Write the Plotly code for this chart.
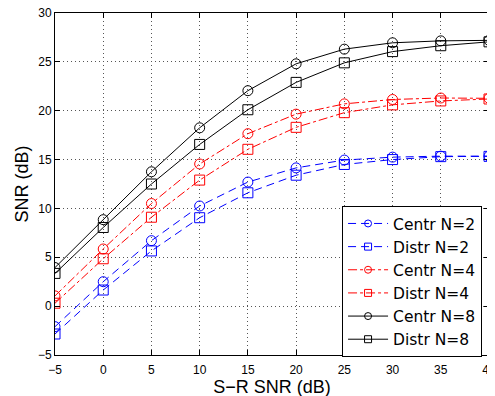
import plotly.graph_objects as go

x_snr = [-5, 0, 5, 10, 15, 20, 25, 30, 35, 40]
centr_n2 = [-2.1, 2.5, 6.7, 10.25, 12.7, 14.15, 14.95, 15.25, 15.35, 15.35]
distr_n2 = [-2.85, 1.65, 5.65, 9.05, 11.6, 13.4, 14.5, 15.0, 15.3, 15.33]
centr_n4 = [1.05, 5.85, 10.5, 14.55, 17.65, 19.65, 20.7, 21.15, 21.3, 21.27]
distr_n4 = [0.3, 4.85, 9.1, 12.9, 16.05, 18.3, 19.8, 20.6, 21.0, 21.2]
centr_n8 = [3.95, 8.85, 13.75, 18.25, 22.05, 24.8, 26.3, 26.95, 27.15, 27.2]
distr_n8 = [3.35, 8.05, 12.5, 16.55, 20.1, 22.9, 24.9, 26.05, 26.65, 27.05]

x_ticks = [-5, 0, 5, 10, 15, 20, 25, 30, 35, 40]
y_ticks = [-5, 0, 5, 10, 15, 20, 25, 30]

series = [
    ("Centr N=2", centr_n2, "blue", "8px,5px", "circle-open"),
    ("Distr N=2", distr_n2, "blue", "8px,5px", "square-open"),
    ("Centr N=4", centr_n4, "red", "dashdot", "circle-open"),
    ("Distr N=4", distr_n4, "red", "dashdot", "square-open"),
    ("Centr N=8", centr_n8, "black", "solid", "circle-open"),
    ("Distr N=8", distr_n8, "black", "solid", "square-open"),
]

fig = go.Figure()
for name, ys, color, dash, sym in series:
    fig.add_trace(go.Scatter(
        x=x_snr, y=ys, name=name, mode="lines+markers", showlegend=False,
        line=dict(color=color, width=1, dash=dash),
        marker=dict(symbol=sym, size=10, color=color, line=dict(width=1, color=color)),
    ))
# legend entries with smaller markers (as in the reference legend)
for name, ys, color, dash, sym in series:
    fig.add_trace(go.Scatter(
        x=[None], y=[None], name=name, mode="lines+markers", showlegend=True,
        line=dict(color=color, width=1, dash=dash),
        marker=dict(symbol=sym, size=7, color=color, line=dict(width=1, color=color)),
    ))

axis_common = dict(
    showline=True, linecolor="black", linewidth=1, mirror="ticks",
    ticks="inside", ticklen=5, tickcolor="black",
    showgrid=True, gridcolor="#555555", gridwidth=1, griddash="1px,3px",
    zeroline=False, tickfont=dict(size=12, color="black"), automargin=False,
    ticklabeloverflow="allow",
)

fig.update_xaxes(range=[-5, 40], tickvals=x_ticks, ticktext=[str(v).replace("-", "\u2212") for v in x_ticks],
                 title=dict(text="S\u2212R SNR (dB)", font=dict(size=18, color="black"), standoff=2),
                 ticklabelstandoff=4,
                 **axis_common)
fig.update_yaxes(range=[-5, 30], tickvals=y_ticks, ticktext=[str(v).replace("-", "\u2212") for v in y_ticks],
                 title=dict(text="SNR (dB)", font=dict(size=18, color="black"), standoff=4),
                 **axis_common)

fig.update_layout(
    width=495, height=396,
    margin=dict(l=47, r=14, t=5, b=49, autoexpand=False),
    paper_bgcolor="white", plot_bgcolor="white",
    font=dict(family="Liberation Sans, Arial, sans-serif", color="black"),
    legend=dict(x=0.984, y=0.436, xanchor="right", yanchor="top",
                bgcolor="white", bordercolor="black", borderwidth=1,
                font=dict(family="DejaVu Sans, sans-serif", size=15.5, color="black"),
                itemwidth=40, tracegroupgap=0,
                entrywidth=90, entrywidthmode="pixels"),
    showlegend=True,
)

fig.write_html("out.html")
